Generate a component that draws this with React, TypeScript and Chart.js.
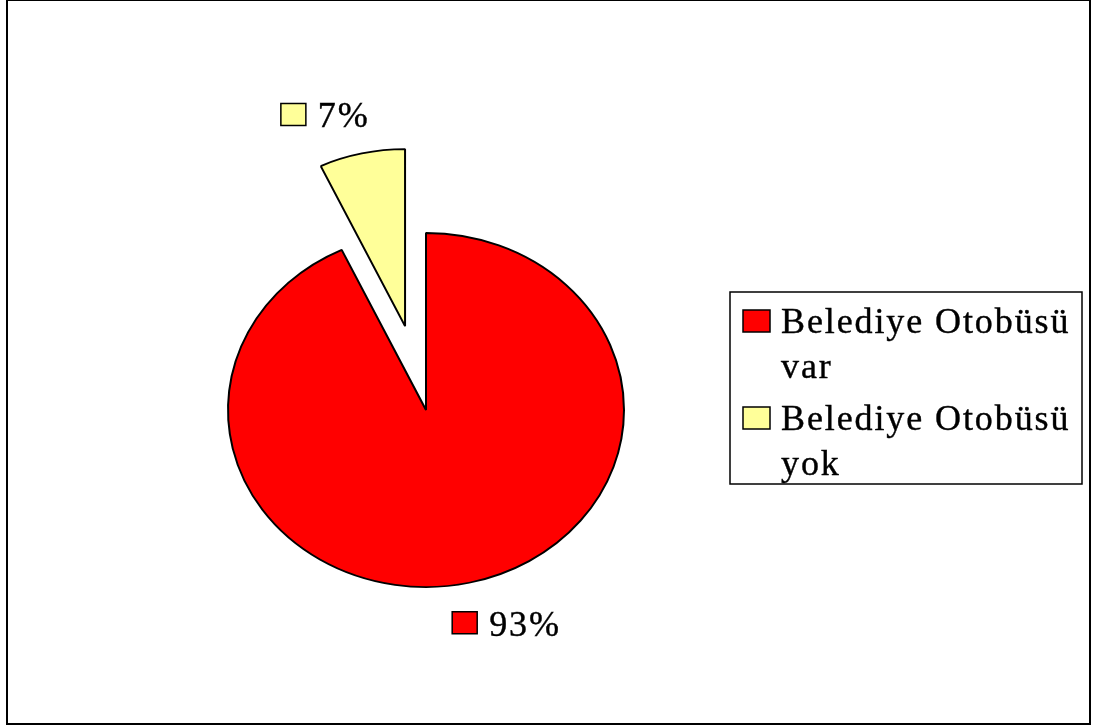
import React, { useEffect, useRef } from "react";
import { Chart, registerables } from "chart.js";

Chart.register(...registerables);

const categories = ["Belediye Otobüsü var", "Belediye Otobüsü yok"];
const legendLines = [["Belediye Otobüsü", "var"], ["Belediye Otobüsü", "yok"]];
const values = [93, 7];
const percentLabels = ["93%", "7%"];
const sliceColors = ["#FF0000", "#FFFF99"];
const sliceExplode = [0, 96];

const FONT = "36px 'Liberation Serif', 'Times New Roman', serif";
const SY = 0.894; // vertical squash of pie

function spacedText(ctx: CanvasRenderingContext2D, text: string, x: number, y: number) {
  ctx.save();
  (ctx as any).letterSpacing = "1.9px";
  ctx.fillText(text, x, y);
  ctx.lineWidth = 0.4;
  ctx.strokeStyle = "#000";
  ctx.strokeText(text, x, y);
  ctx.restore();
}

function swatch(ctx: CanvasRenderingContext2D, x: number, y: number, w: number, h: number, color: string) {
  ctx.save();
  ctx.fillStyle = color;
  ctx.fillRect(x, y, w, h);
  ctx.lineWidth = 1.5;
  ctx.strokeStyle = "#000";
  ctx.strokeRect(x, y, w, h);
  ctx.restore();
}

const squashPlugin = {
  id: "squash",
  afterUpdate(chart: any) {
    const meta = chart.getDatasetMeta(0);
    meta.data.forEach((arc: any, i: number) => {
      if (arc.__patched) return;
      const orig = arc.draw;
      arc.draw = function (ctx: CanvasRenderingContext2D, area: any) {
        const d = sliceExplode[i];
        const mid = (this.startAngle + this.endAngle) / 2;
        ctx.save();
        ctx.translate(Math.cos(mid) * d, Math.sin(mid) * d);
        orig.call(this, ctx, area);
        ctx.restore();
      };
      arc.__patched = true;
    });
  },
  beforeDatasetsDraw(chart: any) {
    const arc = chart.getDatasetMeta(0).data[0];
    const ctx = chart.ctx;
    ctx.save();
    ctx.translate(arc.x, arc.y);
    ctx.scale(1, SY);
    ctx.translate(-arc.x, -arc.y);
  },
  afterDatasetsDraw(chart: any) {
    chart.ctx.restore();
  },
};

// label placement relative to the slice's outer mid point
const labelShift = [
  { dx: -17, dy: 29 },
  { dx: -81, dy: -50 },
];

const decorPlugin = {
  id: "decor",
  afterDraw(chart: any) {
    const ctx: CanvasRenderingContext2D = chart.ctx;
    ctx.save();
    ctx.strokeStyle = "#000";
    ctx.lineWidth = 2;
    ctx.strokeRect(7, 0, 1083, 724);
    ctx.restore();

    ctx.save();
    ctx.font = FONT;
    ctx.fillStyle = "#000";
    ctx.textBaseline = "alphabetic";
    const meta = chart.getDatasetMeta(0);
    meta.data.forEach((arc: any, i: number) => {
      const mid = (arc.startAngle + arc.endAngle) / 2;
      const r = arc.outerRadius + sliceExplode[i];
      const ax = arc.x + Math.cos(mid) * r;
      const ay = arc.y + Math.sin(mid) * r * SY;
      const sx = ax + labelShift[i].dx;
      const sy = ay + labelShift[i].dy;
      swatch(ctx, sx, sy, 25, 22, sliceColors[i]);
      spacedText(ctx, percentLabels[i], sx + 37, sy + 24);
    });

    ctx.lineWidth = 1.5;
    ctx.strokeStyle = "#000";
    ctx.strokeRect(730, 292, 352, 192);
    const itemTop = [310, 407];
    legendLines.forEach((lines, i) => {
      swatch(ctx, 743, itemTop[i], 27, 22, sliceColors[i]);
      lines.forEach((ln, j) => {
        spacedText(ctx, ln, 781, itemTop[i] + 23 + j * 45);
      });
    });
    ctx.restore();
  },
};

export default function App() {
  const ref = useRef<HTMLCanvasElement>(null);
  useEffect(() => {
    if (!ref.current) return;
    const chart = new Chart(ref.current, {
      type: "pie",
      data: {
        labels: categories,
        datasets: [
          {
            data: values,
            backgroundColor: sliceColors,
            borderColor: "#000",
            borderWidth: 2,
          },
        ],
      },
      options: {
        responsive: false,
        animation: false,
        radius: 198,
        layout: { padding: { left: 200, right: 444, top: 100, bottom: 7 } },
        plugins: { legend: { display: false }, tooltip: { enabled: false } },
      } as any,
      plugins: [squashPlugin, decorPlugin],
    });
    return () => chart.destroy();
  }, []);
  return (
    <div style={{ position: "absolute", left: 0, top: 0, width: 1096, height: 727, background: "#fff" }}>
      <canvas ref={ref} width={1096} height={727} style={{ display: "block" }} />
    </div>
  );
}
